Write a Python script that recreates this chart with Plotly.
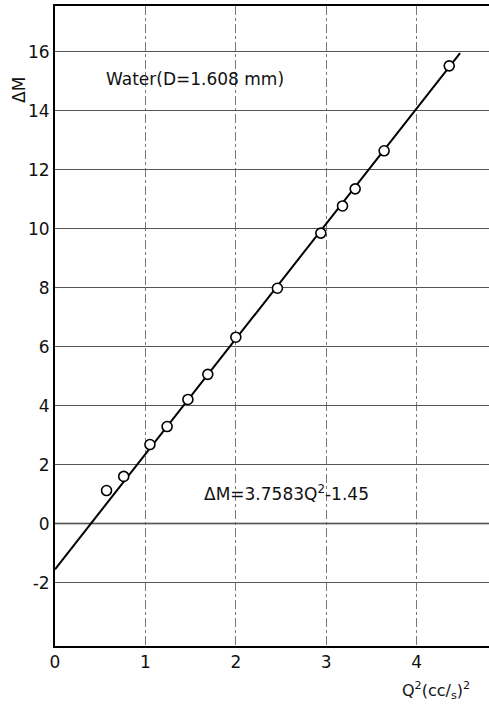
import plotly.graph_objects as go

# Data
q2 = [0.57, 0.76, 1.05, 1.24, 1.47, 1.69, 2.00, 2.46, 2.94, 3.18, 3.32, 3.64, 4.36]
dm = [1.12, 1.60, 2.68, 3.29, 4.21, 5.06, 6.32, 7.98, 9.85, 10.77, 11.35, 12.64, 15.52]

# Fitted line endpoints (dM = 3.7583 Q^2 - 1.45)
fit_x = [0.0, 4.48]
fit_y = [-1.55, 15.95]

x_ticks = [0, 1, 2, 3, 4]
y_ticks = [-2, 0, 2, 4, 6, 8, 10, 12, 14, 16]

FONT = "DejaVu Sans"

fig = go.Figure()
fig.add_trace(go.Scatter(x=fit_x, y=fit_y, mode="lines",
                         line=dict(color="black", width=2), showlegend=False))
fig.add_trace(go.Scatter(x=q2, y=dm, mode="markers",
                         marker=dict(symbol="circle", size=10, color="white",
                                     line=dict(color="black", width=1.6)),
                         showlegend=False))

# Zero line emphasized
fig.add_shape(type="line", xref="x", yref="y", x0=0, x1=4.8, y0=0, y1=0,
              line=dict(color="#222", width=1.5), layer="below")

fig.update_layout(
    width=489, height=710,
    margin=dict(l=55, r=0, t=6, b=64),
    paper_bgcolor="white", plot_bgcolor="white",
    font=dict(family=FONT, size=17, color="#111"),
    xaxis=dict(range=[0, 4.8], tickvals=x_ticks, ticktext=[str(v) for v in x_ticks],
               showgrid=True, gridcolor="#777", griddash="dashdot", gridwidth=1,
               showline=True, linecolor="black", linewidth=2, mirror=True,
               zeroline=False, ticks="", ticklen=0, tickfont=dict(size=17)),
    yaxis=dict(range=[-4.15, 17.55], tickvals=y_ticks, ticktext=[str(v) for v in y_ticks],
               showgrid=True, gridcolor="#555", gridwidth=1,
               showline=True, linecolor="black", linewidth=2, mirror=False,
               zeroline=False, ticks="", ticklen=0, tickfont=dict(size=17)),
    annotations=[
        dict(text="Water(D=1.608 mm)", xref="paper", yref="paper",
             x=(104 - 55) / 434, y=(646 - 79) / 640, xanchor="left", yanchor="middle",
             showarrow=False, font=dict(size=17, family=FONT)),
        dict(text="ΔM=3.7583Q<sup>2</sup>-1.45", xref="paper", yref="paper",
             x=(202 - 55) / 434, y=(646 - 493) / 640, xanchor="left", yanchor="middle",
             showarrow=False, font=dict(size=17, family=FONT)),
        dict(text="ΔM", xref="paper", yref="paper", textangle=-90,
             x=(19 - 55) / 434, y=(646 - 90) / 640, xanchor="center", yanchor="middle",
             showarrow=False, font=dict(size=17, family=FONT)),
        dict(text="Q<sup>2</sup>(cc/<sub>s</sub>)<sup>2</sup>", xref="paper", yref="paper",
             x=(400 - 55) / 434, y=(646 - 690) / 640, xanchor="left", yanchor="middle",
             showarrow=False, font=dict(size=16, family=FONT)),
    ],
)

fig.write_html("out.html")
